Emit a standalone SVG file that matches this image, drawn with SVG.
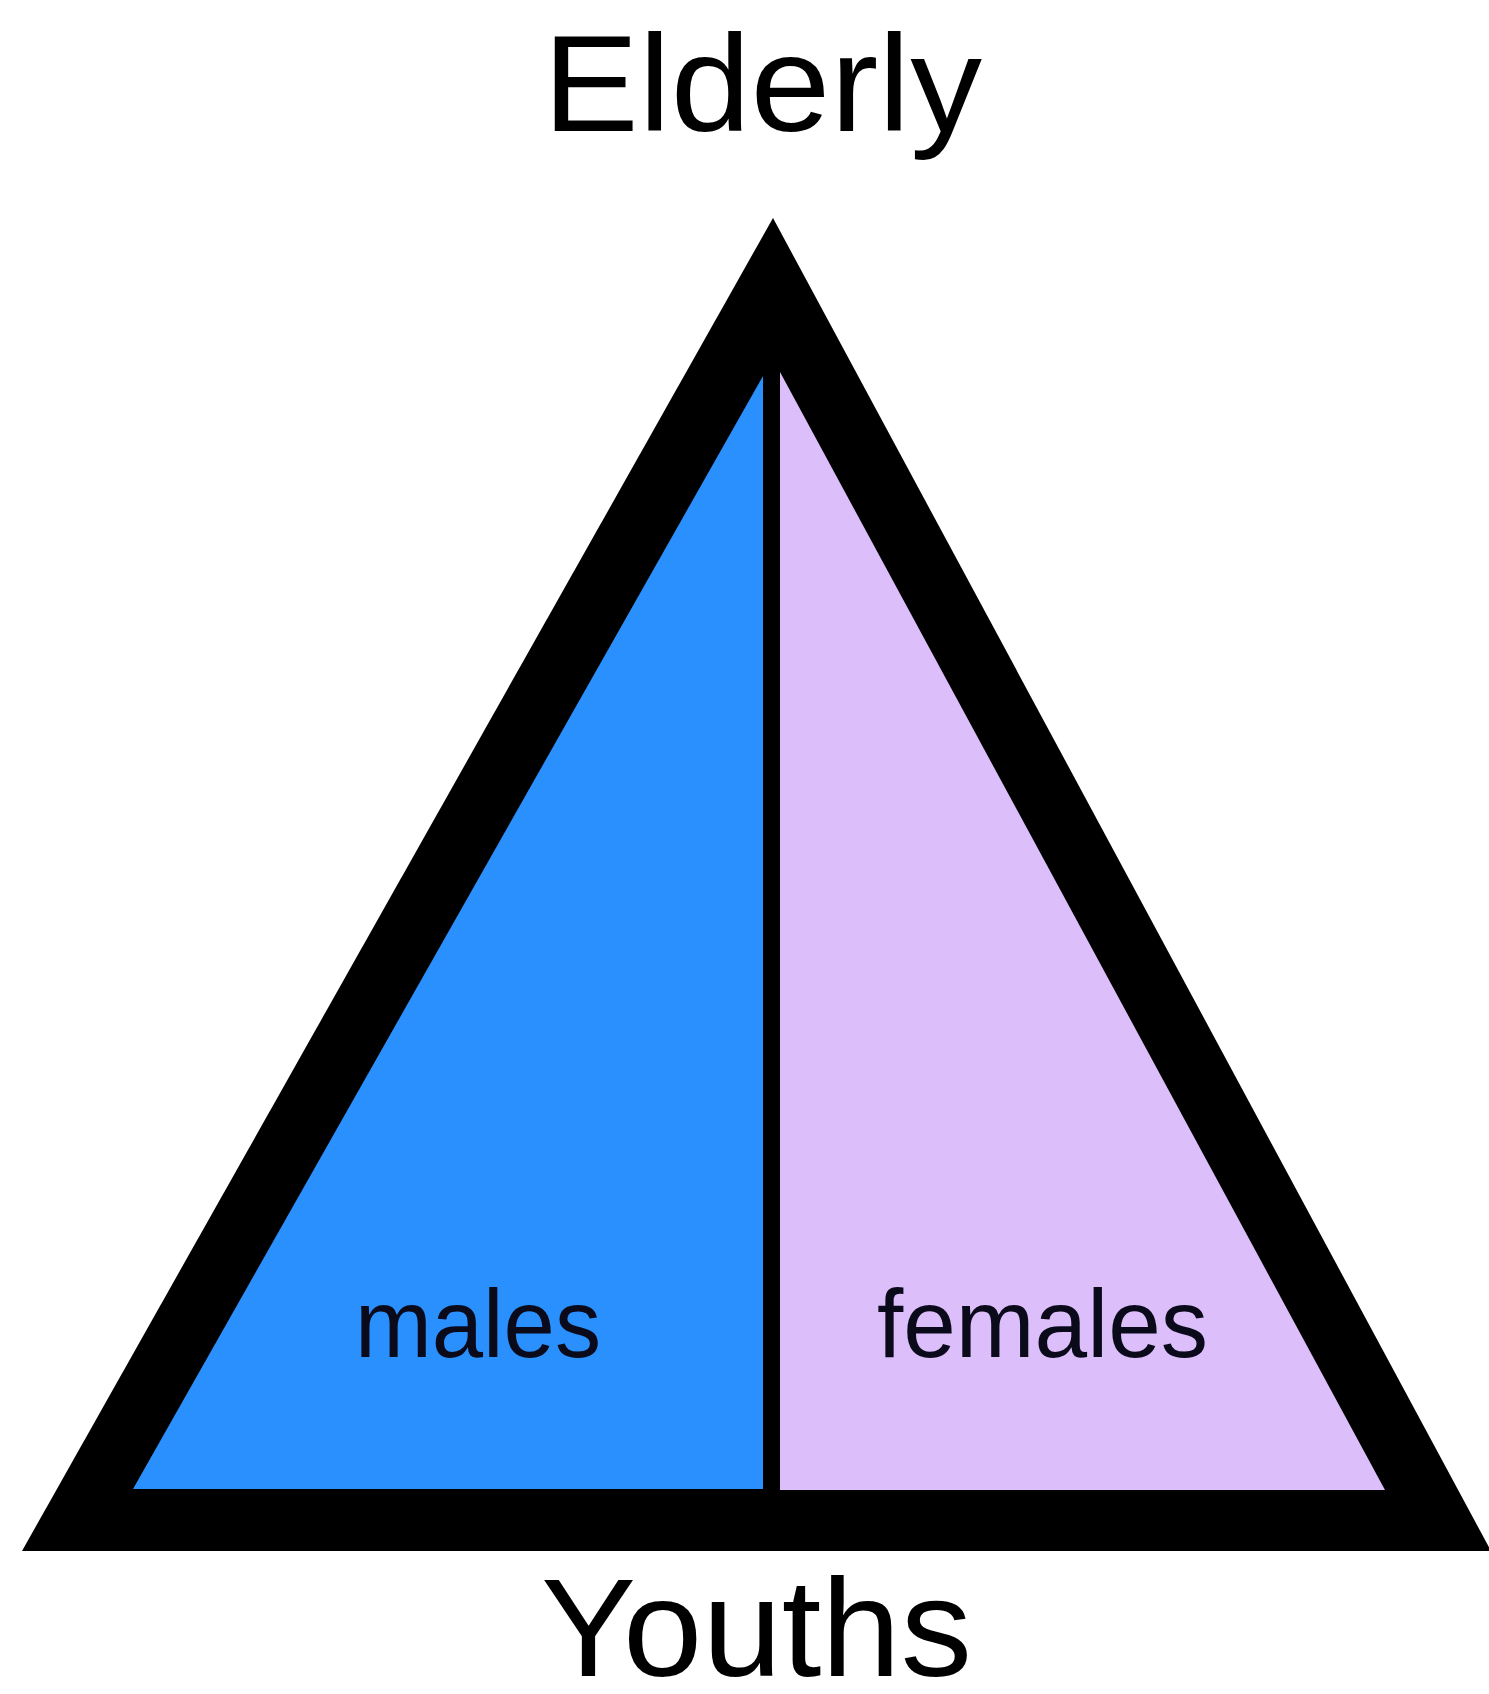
<svg xmlns="http://www.w3.org/2000/svg" width="1489" height="1694" viewBox="0 0 1489 1694">
  <style>
    .lbl { font-family: "Liberation Sans", Arial, sans-serif; fill: #000; }
    .big { font-size: 137px; }
    .small { font-size: 97px; fill: #0a0a1a; }
  </style>
  <rect x="0" y="0" width="1489" height="1694" fill="#ffffff"/>
  <g id="pyramid">
    <polygon points="773,218 1491,1551 22,1551" fill="#000000"/>
  </g>
  <g id="males">
    <polygon points="763,376 763,1489 133,1489" fill="#2a90fe"/>
    <text class="lbl small" x="355" y="1357" textLength="246" lengthAdjust="spacingAndGlyphs">males</text>
  </g>
  <g id="females">
    <polygon points="780,372 1385,1490 780,1490" fill="#dcbefa"/>
    <text class="lbl small" x="877" y="1357" textLength="331" lengthAdjust="spacingAndGlyphs">females</text>
  </g>
  <g id="elderly">
    <text class="lbl big" x="543" y="131" textLength="439" lengthAdjust="spacingAndGlyphs">Elderly</text>
  </g>
  <g id="youths">
    <text class="lbl" x="541" y="1676" style="font-size:140px" textLength="431" lengthAdjust="spacingAndGlyphs">Youths</text>
  </g>
  <g id="connectors"></g>
</svg>
